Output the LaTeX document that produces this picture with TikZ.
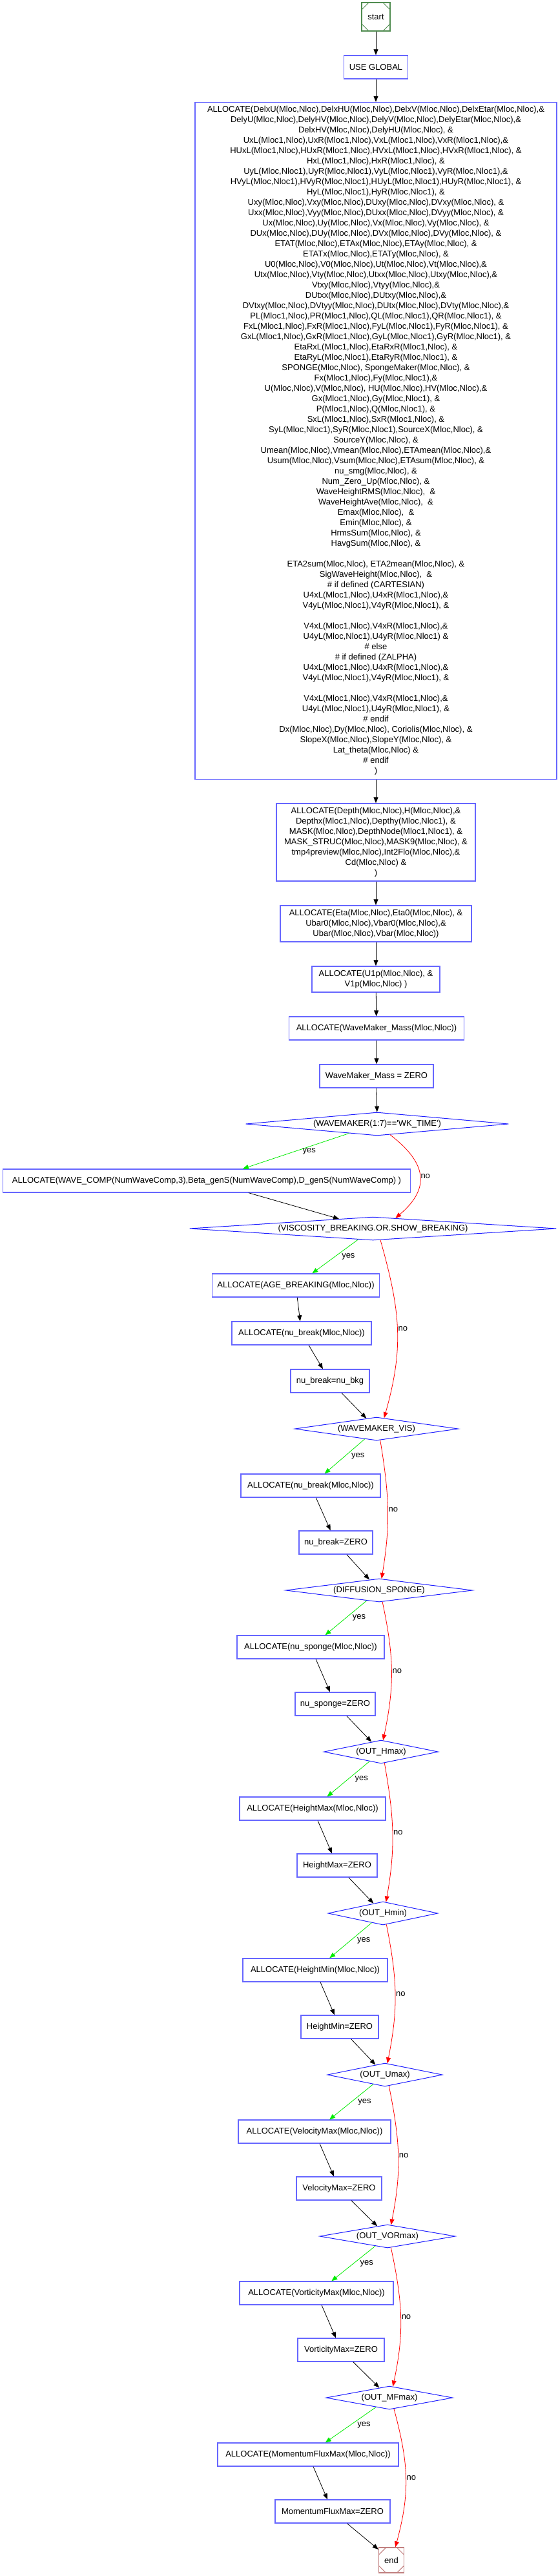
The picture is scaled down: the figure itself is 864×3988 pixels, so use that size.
\documentclass[tikz,border=0pt]{standalone}
\usepackage{fontspec}
\setmainfont{Liberation Sans}
\usetikzlibrary{shapes.geometric, arrows.meta}

\definecolor{boxblue}{RGB}{102,102,255}
\definecolor{decblue}{RGB}{30,30,255}
\definecolor{startgreen}{RGB}{80,140,80}
\definecolor{endred}{RGB}{192,128,128}
\definecolor{yesgreen}{RGB}{0,235,0}
\definecolor{nored}{RGB}{255,0,0}

\begin{document}
\begin{tikzpicture}[
    x=1pt, y=-1pt,
    font=\fontsize{13}{16}\selectfont,
    box/.style     ={draw=boxblue, line width=1.3pt, align=center, minimum height=36pt,
                     inner xsep=8pt, inner ysep=6pt},
    dec/.style     ={diamond, draw=decblue, line width=1pt, inner sep=0pt, minimum height=36pt},
    msq/.style     ={draw=#1, line width=1.3pt, inner sep=0pt, path picture={
                       \draw[#1, line width=1pt]
                         ([yshift=-11pt]path picture bounding box.north west) -- ([xshift=11pt]path picture bounding box.north west)
                         ([xshift=-11pt]path picture bounding box.north east) -- ([yshift=-11pt]path picture bounding box.north east)
                         ([yshift=11pt]path picture bounding box.south east) -- ([xshift=-11pt]path picture bounding box.south east)
                         ([xshift=11pt]path picture bounding box.south west) -- ([yshift=11pt]path picture bounding box.south west);}},
    flow/.style    ={-{Triangle[length=9pt, width=7pt]}, line width=0.8pt},
    yesflow/.style ={flow, yesgreen},
    noflow/.style  ={flow, nored},
    lbl/.style     ={inner sep=1pt, text=black}
]
\useasboundingbox (0,0) rectangle (864,3988);

% Main column
\node[msq=startgreen, minimum size=44pt] (start) at (582,26) {start};
\node[box, minimum width=96pt] (useglobal) at (582,104) {USE GLOBAL};
\node[box, minimum width=560pt] (allocmain) at (582,682.5) {%
ALLOCATE(DelxU(Mloc,Nloc),DelxHU(Mloc,Nloc),DelxV(Mloc,Nloc),DelxEtar(Mloc,Nloc),\&\\
DelyU(Mloc,Nloc),DelyHV(Mloc,Nloc),DelyV(Mloc,Nloc),DelyEtar(Mloc,Nloc),\&\\
DelxHV(Mloc,Nloc),DelyHU(Mloc,Nloc), \&\\
UxL(Mloc1,Nloc),UxR(Mloc1,Nloc),VxL(Mloc1,Nloc),VxR(Mloc1,Nloc),\&\\
HUxL(Mloc1,Nloc),HUxR(Mloc1,Nloc),HVxL(Mloc1,Nloc),HVxR(Mloc1,Nloc), \&\\
HxL(Mloc1,Nloc),HxR(Mloc1,Nloc), \&\\
UyL(Mloc,Nloc1),UyR(Mloc,Nloc1),VyL(Mloc,Nloc1),VyR(Mloc,Nloc1),\&\\
HVyL(Mloc,Nloc1),HVyR(Mloc,Nloc1),HUyL(Mloc,Nloc1),HUyR(Mloc,Nloc1), \&\\
HyL(Mloc,Nloc1),HyR(Mloc,Nloc1), \&\\
Uxy(Mloc,Nloc),Vxy(Mloc,Nloc),DUxy(Mloc,Nloc),DVxy(Mloc,Nloc), \&\\
Uxx(Mloc,Nloc),Vyy(Mloc,Nloc),DUxx(Mloc,Nloc),DVyy(Mloc,Nloc), \&\\
Ux(Mloc,Nloc),Uy(Mloc,Nloc),Vx(Mloc,Nloc),Vy(Mloc,Nloc), \&\\
DUx(Mloc,Nloc),DUy(Mloc,Nloc),DVx(Mloc,Nloc),DVy(Mloc,Nloc), \&\\
ETAT(Mloc,Nloc),ETAx(Mloc,Nloc),ETAy(Mloc,Nloc), \&\\
ETATx(Mloc,Nloc),ETATy(Mloc,Nloc), \&\\
U0(Mloc,Nloc),V0(Mloc,Nloc),Ut(Mloc,Nloc),Vt(Mloc,Nloc),\&\\
Utx(Mloc,Nloc),Vty(Mloc,Nloc),Utxx(Mloc,Nloc),Utxy(Mloc,Nloc),\&\\
Vtxy(Mloc,Nloc),Vtyy(Mloc,Nloc),\&\\
DUtxx(Mloc,Nloc),DUtxy(Mloc,Nloc),\&\\
DVtxy(Mloc,Nloc),DVtyy(Mloc,Nloc),DUtx(Mloc,Nloc),DVty(Mloc,Nloc),\&\\
PL(Mloc1,Nloc),PR(Mloc1,Nloc),QL(Mloc,Nloc1),QR(Mloc,Nloc1), \&\\
FxL(Mloc1,Nloc),FxR(Mloc1,Nloc),FyL(Mloc,Nloc1),FyR(Mloc,Nloc1), \&\\
GxL(Mloc1,Nloc),GxR(Mloc1,Nloc),GyL(Mloc,Nloc1),GyR(Mloc,Nloc1), \&\\
EtaRxL(Mloc1,Nloc),EtaRxR(Mloc1,Nloc), \&\\
EtaRyL(Mloc,Nloc1),EtaRyR(Mloc,Nloc1), \&\\
SPONGE(Mloc,Nloc), SpongeMaker(Mloc,Nloc), \&\\
Fx(Mloc1,Nloc),Fy(Mloc,Nloc1),\&\\
U(Mloc,Nloc),V(Mloc,Nloc), HU(Mloc,Nloc),HV(Mloc,Nloc),\&\\
Gx(Mloc1,Nloc),Gy(Mloc,Nloc1), \&\\
P(Mloc1,Nloc),Q(Mloc,Nloc1), \&\\
SxL(Mloc1,Nloc),SxR(Mloc1,Nloc), \&\\
SyL(Mloc,Nloc1),SyR(Mloc,Nloc1),SourceX(Mloc,Nloc), \&\\
SourceY(Mloc,Nloc), \&\\
Umean(Mloc,Nloc),Vmean(Mloc,Nloc),ETAmean(Mloc,Nloc),\&\\
Usum(Mloc,Nloc),Vsum(Mloc,Nloc),ETAsum(Mloc,Nloc), \&\\
nu\_smg(Mloc,Nloc), \&\\
Num\_Zero\_Up(Mloc,Nloc), \&\\
WaveHeightRMS(Mloc,Nloc),~ \&\\
WaveHeightAve(Mloc,Nloc),~ \&\\
Emax(Mloc,Nloc),~ \&\\
Emin(Mloc,Nloc), \&\\
HrmsSum(Mloc,Nloc), \&\\
HavgSum(Mloc,Nloc), \&\\
~\\
ETA2sum(Mloc,Nloc), ETA2mean(Mloc,Nloc), \&\\
SigWaveHeight(Mloc,Nloc),~ \&\\
\# if defined (CARTESIAN)\\
U4xL(Mloc1,Nloc),U4xR(Mloc1,Nloc),\&\\
V4yL(Mloc,Nloc1),V4yR(Mloc,Nloc1), \&\\
~\\
V4xL(Mloc1,Nloc),V4xR(Mloc1,Nloc),\&\\
U4yL(Mloc,Nloc1),U4yR(Mloc,Nloc1) \&\\
\# else\\
\# if defined (ZALPHA)\\
U4xL(Mloc1,Nloc),U4xR(Mloc1,Nloc),\&\\
V4yL(Mloc,Nloc1),V4yR(Mloc,Nloc1), \&\\
~\\
V4xL(Mloc1,Nloc),V4xR(Mloc1,Nloc),\&\\
U4yL(Mloc,Nloc1),U4yR(Mloc,Nloc1), \&\\
\# endif\\
Dx(Mloc,Nloc),Dy(Mloc,Nloc), Coriolis(Mloc,Nloc), \&\\
SlopeX(Mloc,Nloc),SlopeY(Mloc,Nloc), \&\\
Lat\_theta(Mloc,Nloc) \&\\
\# endif\\
)};
\node[box, minimum width=308pt] (allocdepth) at (582,1304) {%
ALLOCATE(Depth(Mloc,Nloc),H(Mloc,Nloc),\&\\
Depthx(Mloc1,Nloc),Depthy(Mloc,Nloc1), \&\\
MASK(Mloc,Nloc),DepthNode(Mloc1,Nloc1), \&\\
MASK\_STRUC(Mloc,Nloc),MASK9(Mloc,Nloc), \&\\
tmp4preview(Mloc,Nloc),Int2Flo(Mloc,Nloc),\&\\
Cd(Mloc,Nloc) \&\\
)};
\node[box, minimum width=296pt] (allocEta) at (582,1430) {%
ALLOCATE(Eta(Mloc,Nloc),Eta0(Mloc,Nloc), \&\\
Ubar0(Mloc,Nloc),Vbar0(Mloc,Nloc),\&\\
Ubar(Mloc,Nloc),Vbar(Mloc,Nloc))};
\node[box, minimum width=198pt] (allocUp) at (582,1516) {ALLOCATE(U1p(Mloc,Nloc), \&\\ V1p(Mloc,Nloc) )};
\node[box, minimum width=271pt] (allocWM) at (583,1592) {ALLOCATE(WaveMaker\_Mass(Mloc,Nloc))};
\node[box, minimum width=176pt] (zeroWM) at (583,1666) {WaveMaker\_Mass = ZERO};
\node[dec, minimum width=407pt, aspect=11.3] (ifWK) at (584,1740) {(WAVEMAKER(1:7)==\textquotesingle WK\_TIME\textquotesingle)};
\node[box, minimum width=631pt] (allocComp) at (320,1828) {ALLOCATE(WAVE\_COMP(NumWaveComp,3),Beta\_genS(NumWaveComp),D\_genS(NumWaveComp) )};
\node[dec, minimum width=568pt, aspect=15.8] (ifBreak) at (577.5,1902) {(VISCOSITY\_BREAKING.OR.SHOW\_BREAKING)};

% Breaking / sponge branches
\node[box, minimum width=258pt] (allocAge) at (458,1990) {ALLOCATE(AGE\_BREAKING(Mloc,Nloc))};
\node[box, minimum width=216pt] (allocBrk) at (467,2064) {ALLOCATE(nu\_break(Mloc,Nloc))};
\node[box, minimum width=122pt] (bkgBrk) at (511,2138) {nu\_break=nu\_bkg};
\node[dec, minimum width=253pt, aspect=7] (ifVis) at (583,2212) {(WAVEMAKER\_VIS)};
\node[box, minimum width=216pt] (allocBrkVis) at (481,2300) {ALLOCATE(nu\_break(Mloc,Nloc))};
\node[box, minimum width=114pt] (zeroBrk) at (520,2388) {nu\_break=ZERO};
\node[dec, minimum width=289pt, aspect=8] (ifSponge) at (587,2462) {(DIFFUSION\_SPONGE)};
\node[box, minimum width=228pt] (allocSponge) at (481,2550) {ALLOCATE(nu\_sponge(Mloc,Nloc))};
\node[box, minimum width=124pt] (zeroSponge) at (519,2638) {nu\_sponge=ZERO};

% Output statistics
\node[dec, minimum width=177pt, aspect=4.9] (ifHmax) at (590,2712) {(OUT\_Hmax)};
\node[box, minimum width=226pt] (allocHmax) at (484,2800) {ALLOCATE(HeightMax(Mloc,Nloc))};
\node[box, minimum width=124pt] (zeroHmax) at (522,2888) {HeightMax=ZERO};
\node[dec, minimum width=170pt, aspect=4.7] (ifHmin) at (593,2962) {(OUT\_Hmin)};
\node[box, minimum width=224pt] (allocHmin) at (488,3050) {ALLOCATE(HeightMin(Mloc,Nloc))};
\node[box, minimum width=120pt] (zeroHmin) at (526,3138) {HeightMin=ZERO};
\node[dec, minimum width=178pt, aspect=4.9] (ifUmax) at (596,3212) {(OUT\_Umax)};
\node[box, minimum width=236pt] (allocUmax) at (487,3300) {ALLOCATE(VelocityMax(Mloc,Nloc))};
\node[box, minimum width=132pt] (zeroUmax) at (525,3388) {VelocityMax=ZERO};
\node[dec, minimum width=210pt, aspect=5.8] (ifVor) at (600,3462) {(OUT\_VORmax)};
\node[box, minimum width=238pt] (allocVor) at (490,3550) {ALLOCATE(VorticityMax(Mloc,Nloc))};
\node[box, minimum width=134pt] (zeroVor) at (528,3638) {VorticityMax=ZERO};
\node[dec, minimum width=196pt, aspect=5.4] (ifMF) at (603,3712) {(OUT\_MFmax)};
\node[box, minimum width=280pt] (allocMF) at (477,3800) {ALLOCATE(MomentumFluxMax(Mloc,Nloc))};
\node[box, minimum width=178pt] (zeroMF) at (515,3888) {MomentumFluxMax=ZERO};
\node[msq=endred, minimum size=39pt] (end) at (606,3963.5) {end};

% --- Arrows ---
\draw[flow] (start) -- (useglobal);
\draw[flow] (useglobal) -- (allocmain);
\draw[flow] (allocmain) -- (allocdepth);
\draw[flow] (allocdepth) -- (allocEta);
\draw[flow] (allocEta) -- (allocUp);
\draw[flow] (allocUp) -- (allocWM);
\draw[flow] (allocWM) -- (zeroWM);
\draw[flow] (zeroWM) -- (ifWK);

\draw[yesflow] (ifWK) -- (allocComp) node[lbl, midway, right=9pt] {yes};
\draw[noflow] (ifWK.-40) .. controls +(59,45) and +(53,-45) .. (ifBreak.25)
    node[lbl, midway, right] {no};
\draw[flow] (allocComp) -- (ifBreak);

\draw[yesflow] (ifBreak) -- (allocAge) node[lbl, midway, right=9pt] {yes};
\draw[noflow] (ifBreak.-57) .. controls +(31,110) and +(31,-110) .. (ifVis.55)
    node[lbl, midway, right] {no};
\draw[flow] (allocAge) -- (allocBrk);
\draw[flow] (allocBrk) -- (bkgBrk);
\draw[flow] (bkgBrk) -- (ifVis);

\draw[yesflow] (ifVis) -- (allocBrkVis) node[lbl, midway, right=9pt] {yes};
\draw[noflow] (ifVis.-72) .. controls +(14,85) and +(14,-85) .. (ifSponge.78)
    node[lbl, midway, right] {no};
\draw[flow] (allocBrkVis) -- (zeroBrk);
\draw[flow] (zeroBrk) -- (ifSponge);

\draw[yesflow] (ifSponge) -- (allocSponge) node[lbl, midway, right=9pt] {yes};
\draw[noflow] (ifSponge.-74) .. controls +(18,85) and +(18,-85) .. (ifHmax.80)
    node[lbl, midway, right] {no};
\draw[flow] (allocSponge) -- (zeroSponge);
\draw[flow] (zeroSponge) -- (ifHmax);

\draw[yesflow] (ifHmax) -- (allocHmax) node[lbl, midway, right=9pt] {yes};
\draw[noflow] (ifHmax.-73) .. controls +(15,85) and +(15,-85) .. (ifHmin.75)
    node[lbl, midway, right] {no};
\draw[flow] (allocHmax) -- (zeroHmax);
\draw[flow] (zeroHmax) -- (ifHmin);

\draw[yesflow] (ifHmin) -- (allocHmin) node[lbl, midway, right=9pt] {yes};
\draw[noflow] (ifHmin.-73) .. controls +(17,85) and +(17,-85) .. (ifUmax.78)
    node[lbl, midway, right] {no};
\draw[flow] (allocHmin) -- (zeroHmin);
\draw[flow] (zeroHmin) -- (ifUmax);

\draw[yesflow] (ifUmax) -- (allocUmax) node[lbl, midway, right=9pt] {yes};
\draw[noflow] (ifUmax.-70) .. controls +(17,85) and +(17,-85) .. (ifVor.73)
    node[lbl, midway, right] {no};
\draw[flow] (allocUmax) -- (zeroUmax);
\draw[flow] (zeroUmax) -- (ifVor);

\draw[yesflow] (ifVor) -- (allocVor) node[lbl, midway, right=9pt] {yes};
\draw[noflow] (ifVor.-73) .. controls +(18,85) and +(18,-85) .. (ifMF.73)
    node[lbl, midway, right] {no};
\draw[flow] (allocVor) -- (zeroVor);
\draw[flow] (zeroVor) -- (ifMF);

\draw[yesflow] (ifMF) -- (allocMF) node[lbl, midway, right=9pt] {yes};
\draw[noflow] (ifMF.-68) .. controls +(23,85) and +(23,-85) .. (end.73)
    node[lbl, midway, right] {no};
\draw[flow] (allocMF) -- (zeroMF);
\draw[flow] (zeroMF) -- (end);

\end{tikzpicture}
\end{document}
